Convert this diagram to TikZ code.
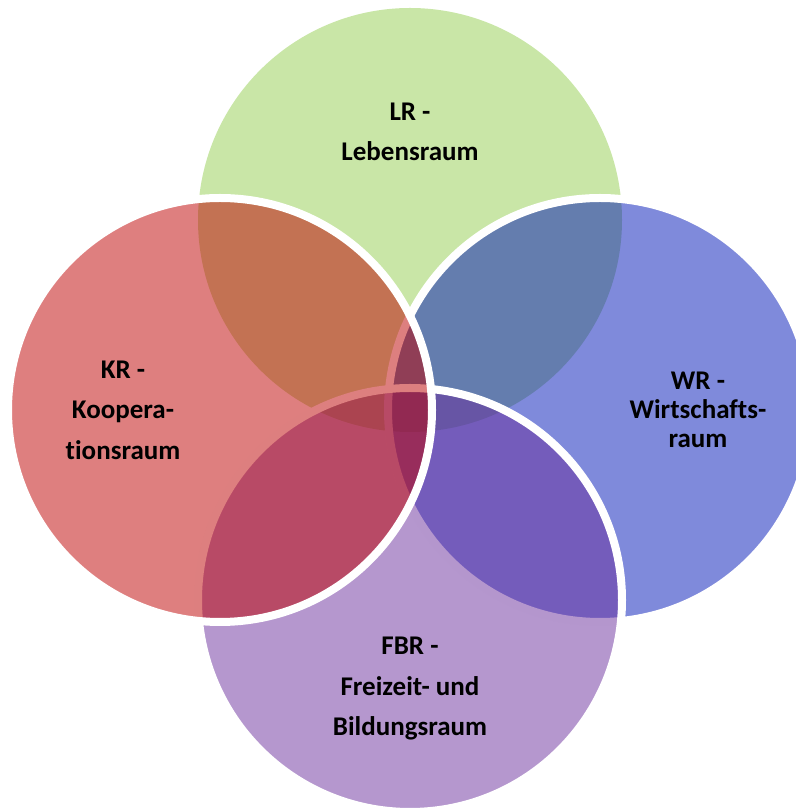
\documentclass[tikz,border=0pt]{standalone}
\usepackage{fontspec}
\setmainfont{Carlito}[RawFeature=-liga]
\usepackage{tikz}
\usetikzlibrary{calc}
\definecolor{lrgreen}{RGB}{147,205,79}
\definecolor{wrblue}{RGB}{0,21,183}
\definecolor{fbrpurple}{RGB}{107,47,157}
\definecolor{krred}{RGB}{189,0,0}

\begin{document}
\begin{tikzpicture}[x=.5pt,y=.5pt,
  ring/.style={circle,minimum size=212pt,inner sep=0pt,fill opacity=.5,
    draw=white,draw opacity=1,line width=4pt},
  tag/.style={align=center,text=black,inner sep=0pt,
    font=\bfseries\fontsize{13.5}{20.25}\selectfont}]
\useasboundingbox (0,0) rectangle (796,808);
% circles, back to front
\node[ring,fill=lrgreen,draw=none] (lr) at (410,588) {};
\node[ring,fill=wrblue] (wr) at (600,398) {};
\node[ring,fill=fbrpurple] (fbr) at (410,208) {};
\node[ring,fill=krred] (kr) at (220,398) {};
% labels
\node[tag] (lrtxt) at ($(lr)+(0,88)$) {LR -\\Lebensraum};
\node[tag] (krtxt) at ($(kr)+(-97,0)$) {KR -\\Koopera-\\tionsraum};
\node[tag,font=\bfseries\fontsize{13.5}{14.5}\selectfont] (wrtxt)
  at ($(wr)+(98,0)$) {WR -\\Wirtschafts-\\raum};
\node[tag] (fbrtxt) at ($(fbr)+(0,-89)$) {FBR -\\Freizeit- und\\Bildungsraum};
\end{tikzpicture}
\end{document}
